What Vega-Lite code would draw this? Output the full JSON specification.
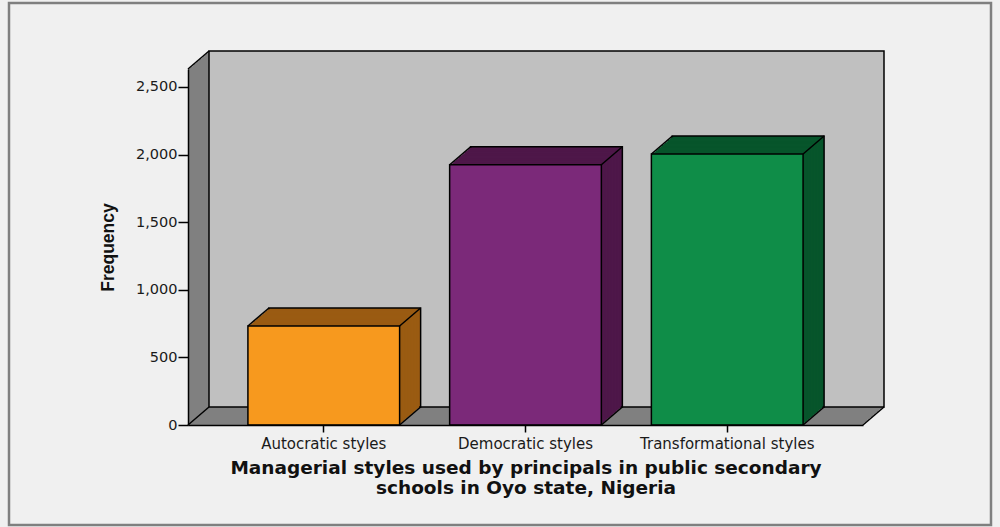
{
"$schema":"https://vega.github.io/schema/vega-lite/v6.json",
"width":675,"height":356,
"autosize":{"type":"none"},
"padding":{"left":188,"top":69,"right":137,"bottom":102},
"background":"#f0f0f0",
"config":{"view":{"stroke":null}},
"data":{"values":[
{"style":"Autocratic styles","frequency":732},
{"style":"Democratic styles","frequency":1925},
{"style":"Transformational styles","frequency":2004}
]},
"resolve":{"scale":{"x":"independent"}},
"layer":[
{"data":{"values":[{}]},"mark":{"type":"rect","fillOpacity":0,"stroke":"#7f7f7f","strokeWidth":2.5,"xOffset":-179,"x2Offset":128,"yOffset":-66,"y2Offset":100},"encoding":{"x":{"datum":0,"type":"quantitative","scale":{"domain":[0,1]},"axis":null},"x2":{"datum":1},"y":{"datum":2633,"type":"quantitative","scale":{"domain":[0,2633],"nice":false}},"y2":{"datum":0}}},
{"data":{"values":[{}]},"layer":[
{"mark":{"type":"rect","fill":"#808080","xOffset":19.5,"x2Offset":19.5,"yOffset":-16.71,"y2Offset":-16.71}},
{"mark":{"type":"rect","fill":"#808080","xOffset":18,"x2Offset":18,"yOffset":-15.43,"y2Offset":-15.43}},
{"mark":{"type":"rect","fill":"#808080","xOffset":16.5,"x2Offset":16.5,"yOffset":-14.14,"y2Offset":-14.14}},
{"mark":{"type":"rect","fill":"#808080","xOffset":15,"x2Offset":15,"yOffset":-12.86,"y2Offset":-12.86}},
{"mark":{"type":"rect","fill":"#808080","xOffset":13.5,"x2Offset":13.5,"yOffset":-11.57,"y2Offset":-11.57}},
{"mark":{"type":"rect","fill":"#808080","xOffset":12,"x2Offset":12,"yOffset":-10.29,"y2Offset":-10.29}},
{"mark":{"type":"rect","fill":"#808080","xOffset":10.5,"x2Offset":10.5,"yOffset":-9,"y2Offset":-9}},
{"mark":{"type":"rect","fill":"#808080","xOffset":9,"x2Offset":9,"yOffset":-7.71,"y2Offset":-7.71}},
{"mark":{"type":"rect","fill":"#808080","xOffset":7.5,"x2Offset":7.5,"yOffset":-6.43,"y2Offset":-6.43}},
{"mark":{"type":"rect","fill":"#808080","xOffset":6,"x2Offset":6,"yOffset":-5.14,"y2Offset":-5.14}},
{"mark":{"type":"rect","fill":"#808080","xOffset":4.5,"x2Offset":4.5,"yOffset":-3.86,"y2Offset":-3.86}},
{"mark":{"type":"rect","fill":"#808080","xOffset":3,"x2Offset":3,"yOffset":-2.57,"y2Offset":-2.57}},
{"mark":{"type":"rect","fill":"#808080","xOffset":1.5,"x2Offset":1.5,"yOffset":-1.29,"y2Offset":-1.29}},
{"mark":{"type":"rect","fill":"#808080"}},
{"mark":{"type":"rect","fill":"#c0c0c0","stroke":"#000000","strokeWidth":1.5,"xOffset":21,"x2Offset":21,"yOffset":-18,"y2Offset":-18}},
{"mark":{"type":"rule","stroke":"#000000","strokeWidth":1.5,"x2Offset":21,"y2Offset":-18},"encoding":{"x":{"datum":0,"type":"quantitative","scale":{"domain":[0,1]},"axis":null},"x2":{"datum":0},"y":{"datum":2633,"type":"quantitative","scale":{"domain":[0,2633],"nice":false}},"y2":{"datum":2633}}},
{"mark":{"type":"rule","stroke":"#000000","strokeWidth":1.5,"x2Offset":21,"y2Offset":-18},"encoding":{"x":{"datum":0,"type":"quantitative","scale":{"domain":[0,1]},"axis":null},"x2":{"datum":0},"y":{"datum":0,"type":"quantitative","scale":{"domain":[0,2633],"nice":false}},"y2":{"datum":0}}},
{"mark":{"type":"rule","stroke":"#000000","strokeWidth":1.5,"x2Offset":21,"y2Offset":-18},"encoding":{"x":{"datum":1,"type":"quantitative","scale":{"domain":[0,1]},"axis":null},"x2":{"datum":1},"y":{"datum":0,"type":"quantitative","scale":{"domain":[0,2633],"nice":false}},"y2":{"datum":0}}}
],
"encoding":{"x":{"datum":0,"type":"quantitative","scale":{"domain":[0,1]},"axis":null},"x2":{"datum":1},"y":{"datum":2633,"type":"quantitative","scale":{"domain":[0,2633],"nice":false}},"y2":{"datum":0}}
},
{
"encoding":{
"x":{"field":"style","type":"nominal","sort":null,"scale":{"paddingInner":0.248,"paddingOuter":0.297},
"axis":{"title":["Managerial styles used by principals in public secondary","schools in Oyo state, Nigeria"],"labelAngle":0,"labelFont":"DejaVu Sans","labelFontSize":15,"labelColor":"#1a1a1a","tickColor":"#000000","tickSize":7,"tickWidth":1.5,"domainColor":"#000000","domainWidth":1.5,"labelPadding":4,"titleFont":"DejaVu Sans","titleFontSize":18.5,"titleFontWeight":"bold","titleColor":"#111111","titlePadding":7,"titleLineHeight":20,"zindex":1}},
"y":{"field":"frequency","type":"quantitative","scale":{"domain":[0,2633],"nice":false},
"axis":{"title":"Frequency","values":[0,500,1000,1500,2000,2500],"format":",.0f","grid":false,"labelFont":"DejaVu Sans","labelFontSize":14.5,"labelColor":"#1a1a1a","tickColor":"#000000","tickSize":10,"tickWidth":1.5,"labelPadding":1,"domainColor":"#000000","domainWidth":1.5,"titleFont":"Liberation Sans","titleFontSize":17.5,"titleFontWeight":"bold","titleColor":"#111111","titlePadding":18,"zindex":1}}
},
"layer":[
{"mark":{"type":"bar","stroke":"#000000","strokeWidth":1.5,"xOffset":21,"x2Offset":21,"yOffset":-18,"y2Offset":-18},"encoding":{"fill":{"field":"style","type":"nominal","sort":null,"scale":{"domain":["Autocratic styles","Democratic styles","Transformational styles"],"range":["#9a5b12","#4e1749","#07552b"]},"legend":null}}},
{"mark":{"type":"bar","xOffset":19.5,"x2Offset":19.5,"yOffset":-16.71,"y2Offset":-16.71},"encoding":{"fill":{"field":"style","type":"nominal","sort":null,"scale":{"domain":["Autocratic styles","Democratic styles","Transformational styles"],"range":["#9a5b12","#4e1749","#07552b"]},"legend":null}}},
{"mark":{"type":"bar","xOffset":18,"x2Offset":18,"yOffset":-15.43,"y2Offset":-15.43},"encoding":{"fill":{"field":"style","type":"nominal","sort":null,"scale":{"domain":["Autocratic styles","Democratic styles","Transformational styles"],"range":["#9a5b12","#4e1749","#07552b"]},"legend":null}}},
{"mark":{"type":"bar","xOffset":16.5,"x2Offset":16.5,"yOffset":-14.14,"y2Offset":-14.14},"encoding":{"fill":{"field":"style","type":"nominal","sort":null,"scale":{"domain":["Autocratic styles","Democratic styles","Transformational styles"],"range":["#9a5b12","#4e1749","#07552b"]},"legend":null}}},
{"mark":{"type":"bar","xOffset":15,"x2Offset":15,"yOffset":-12.86,"y2Offset":-12.86},"encoding":{"fill":{"field":"style","type":"nominal","sort":null,"scale":{"domain":["Autocratic styles","Democratic styles","Transformational styles"],"range":["#9a5b12","#4e1749","#07552b"]},"legend":null}}},
{"mark":{"type":"bar","xOffset":13.5,"x2Offset":13.5,"yOffset":-11.57,"y2Offset":-11.57},"encoding":{"fill":{"field":"style","type":"nominal","sort":null,"scale":{"domain":["Autocratic styles","Democratic styles","Transformational styles"],"range":["#9a5b12","#4e1749","#07552b"]},"legend":null}}},
{"mark":{"type":"bar","xOffset":12,"x2Offset":12,"yOffset":-10.29,"y2Offset":-10.29},"encoding":{"fill":{"field":"style","type":"nominal","sort":null,"scale":{"domain":["Autocratic styles","Democratic styles","Transformational styles"],"range":["#9a5b12","#4e1749","#07552b"]},"legend":null}}},
{"mark":{"type":"bar","xOffset":10.5,"x2Offset":10.5,"yOffset":-9,"y2Offset":-9},"encoding":{"fill":{"field":"style","type":"nominal","sort":null,"scale":{"domain":["Autocratic styles","Democratic styles","Transformational styles"],"range":["#9a5b12","#4e1749","#07552b"]},"legend":null}}},
{"mark":{"type":"bar","xOffset":9,"x2Offset":9,"yOffset":-7.71,"y2Offset":-7.71},"encoding":{"fill":{"field":"style","type":"nominal","sort":null,"scale":{"domain":["Autocratic styles","Democratic styles","Transformational styles"],"range":["#9a5b12","#4e1749","#07552b"]},"legend":null}}},
{"mark":{"type":"bar","xOffset":7.5,"x2Offset":7.5,"yOffset":-6.43,"y2Offset":-6.43},"encoding":{"fill":{"field":"style","type":"nominal","sort":null,"scale":{"domain":["Autocratic styles","Democratic styles","Transformational styles"],"range":["#9a5b12","#4e1749","#07552b"]},"legend":null}}},
{"mark":{"type":"bar","xOffset":6,"x2Offset":6,"yOffset":-5.14,"y2Offset":-5.14},"encoding":{"fill":{"field":"style","type":"nominal","sort":null,"scale":{"domain":["Autocratic styles","Democratic styles","Transformational styles"],"range":["#9a5b12","#4e1749","#07552b"]},"legend":null}}},
{"mark":{"type":"bar","xOffset":4.5,"x2Offset":4.5,"yOffset":-3.86,"y2Offset":-3.86},"encoding":{"fill":{"field":"style","type":"nominal","sort":null,"scale":{"domain":["Autocratic styles","Democratic styles","Transformational styles"],"range":["#9a5b12","#4e1749","#07552b"]},"legend":null}}},
{"mark":{"type":"bar","xOffset":3,"x2Offset":3,"yOffset":-2.57,"y2Offset":-2.57},"encoding":{"fill":{"field":"style","type":"nominal","sort":null,"scale":{"domain":["Autocratic styles","Democratic styles","Transformational styles"],"range":["#9a5b12","#4e1749","#07552b"]},"legend":null}}},
{"mark":{"type":"bar","xOffset":1.5,"x2Offset":1.5,"yOffset":-1.29,"y2Offset":-1.29},"encoding":{"fill":{"field":"style","type":"nominal","sort":null,"scale":{"domain":["Autocratic styles","Democratic styles","Transformational styles"],"range":["#9a5b12","#4e1749","#07552b"]},"legend":null}}},
{"mark":{"type":"bar","stroke":"#000000","strokeWidth":1.5},"encoding":{"color":{"field":"style","type":"nominal","sort":null,"scale":{"domain":["Autocratic styles","Democratic styles","Transformational styles"],"range":["#f7991e","#7b2979","#0f8d48"]},"legend":null}}},
{"mark":{"type":"rule","stroke":"#000000","strokeWidth":1.5,"x2Offset":21,"y2Offset":-18},"encoding":{"x":{"field":"style","type":"nominal","sort":null,"bandPosition":0},"x2":{"field":"style","bandPosition":0},"y":{"field":"frequency","type":"quantitative"},"y2":{"field":"frequency"}}},
{"mark":{"type":"rule","stroke":"#000000","strokeWidth":1.5,"x2Offset":21,"y2Offset":-18},"encoding":{"x":{"field":"style","type":"nominal","sort":null,"bandPosition":1},"x2":{"field":"style","bandPosition":1},"y":{"field":"frequency","type":"quantitative"},"y2":{"field":"frequency"}}},
{"mark":{"type":"rule","stroke":"#000000","strokeWidth":1.5,"x2Offset":21,"y2Offset":-18},"encoding":{"x":{"field":"style","type":"nominal","sort":null,"bandPosition":1},"x2":{"field":"style","bandPosition":1},"y":{"datum":0,"type":"quantitative"},"y2":{"datum":0}}}
]
}
]
}
